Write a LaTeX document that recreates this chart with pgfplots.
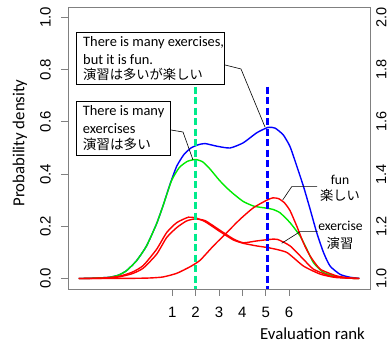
\documentclass[border=0pt]{standalone}
\usepackage{fontspec}
\setmainfont{Carlito}
\newfontfamily\cjk{Noto Sans CJK JP}
\newfontfamily\arialf{Liberation Sans}
\usepackage{pgfplots}
\pgfplotsset{compat=1.18}
\definecolor{dgreen}{RGB}{0,235,140}
\definecolor{boxgray}{RGB}{128,128,128}
\definecolor{rblue}{RGB}{0,0,255}
\definecolor{rgreen}{RGB}{0,235,0}
\definecolor{rred}{RGB}{255,0,0}
\begin{document}
\begin{tikzpicture}
\useasboundingbox (0pt,0pt) rectangle (392pt,347pt);
\begin{axis}[
 at={(68pt,58pt)}, anchor=south west,
 width=302pt, height=282pt, scale only axis,
 xmin=-3.46, xmax=9.46, ymin=-0.04, ymax=1.04,
 axis line style={boxgray, line width=0.8pt},
 xtick={1,2,3,4,5,6}, ytick={0,0.2,0.4,0.6,0.8,1.0},
 xtick pos=lower, ytick pos=left,
 tick align=outside, major tick length=7pt,
 tick style={boxgray, line width=0.8pt},
 /pgf/number format/assume math mode=true,
 tick label style={font=\arialf\fontsize{15}{15}\selectfont, text=black, inner sep=1pt},
 xticklabel shift=10pt,
 yticklabel shift=9pt,
 yticklabel style={rotate=90, anchor=south, /pgf/number format/fixed, /pgf/number format/fixed zerofill, /pgf/number format/precision=1},
 clip=false,
]
% blue
\addplot[rblue, line width=1.4pt, smooth, tension=0.35] coordinates {
(-3,0) (-2.5,0.001) (-2,0.003) (-1.67,0.005) (-1.3,0.013) (-0.96,0.03) (-0.53,0.068) (-0.1,0.125) (0.33,0.21) (0.61,0.28) (0.9,0.36) (1.19,0.43) (1.5,0.475) (1.8,0.5) (2.1,0.512) (2.4,0.517) (2.9,0.507) (3.47,0.50) (4.04,0.52) (4.61,0.558) (5.1,0.579) (5.4,0.576) (5.75,0.55) (6.04,0.505) (6.33,0.43) (6.61,0.354) (6.9,0.265) (7.18,0.176) (7.47,0.1) (7.75,0.048) (8.18,0.016) (8.6,0.005) (9,0.001)};
% green
\addplot[rgreen, line width=1.4pt, smooth, tension=0.35] coordinates {
(-3,0) (-2.5,0.001) (-2,0.003) (-1.67,0.005) (-1.3,0.013) (-0.96,0.03) (-0.53,0.068) (-0.1,0.125) (0.33,0.21) (0.61,0.28) (0.97,0.375) (1.3,0.425) (1.65,0.449) (2.0,0.456) (2.3,0.447) (2.61,0.42) (3.0,0.378) (3.3,0.35) (3.61,0.325) (4.04,0.295) (4.5,0.277) (5.0,0.27) (5.3,0.265) (5.61,0.252) (6.04,0.214) (6.47,0.163) (6.76,0.112) (7.04,0.061) (7.47,0.023) (8.04,0.008) (8.5,0.002) (9,0)};
% red A (fun)
\addplot[rred, line width=1.4pt, smooth, tension=0.35] coordinates {
(-3,0) (-1,0.0005) (0,0.002) (0.6,0.006) (1.19,0.02) (1.76,0.045) (2.19,0.07) (2.76,0.125) (3.33,0.176) (3.9,0.227) (4.47,0.271) (5.04,0.3) (5.3,0.309) (5.55,0.306) (5.8,0.29) (6.04,0.26) (6.33,0.2) (6.61,0.137) (6.9,0.086) (7.33,0.036) (8.04,0.01) (8.6,0.002) (9,0)};
% red C
\addplot[rred, line width=1.4pt, smooth, tension=0.35] coordinates {
(-3,0) (-2,0.002) (-1.3,0.008) (-0.7,0.025) (-0.24,0.05) (0.33,0.112) (0.76,0.176) (1.19,0.214) (1.69,0.235) (2.0,0.232) (2.4,0.218) (3.04,0.18) (3.61,0.148) (4.04,0.135) (4.61,0.125) (5.18,0.117) (5.9,0.1) (6.61,0.048) (7.33,0.017) (8,0.004) (9,0)};
% red B (exercise)
\addplot[rred, line width=1.4pt, smooth, tension=0.35] coordinates {
(-3,0) (-2,0.001) (-1.3,0.006) (-0.7,0.019) (-0.24,0.04) (0.33,0.093) (0.76,0.157) (1.19,0.195) (1.6,0.22) (1.95,0.228) (2.4,0.222) (3.04,0.185) (3.61,0.152) (4.04,0.137) (4.61,0.144) (5.18,0.15) (5.5,0.15) (6.04,0.125) (6.61,0.074) (7.04,0.036) (7.75,0.01) (8.5,0.002) (9,0)};
% dashed verticals
\addplot[dgreen, line width=2.4pt, dash pattern=on 7pt off 3.5pt] coordinates {(2.0,0.735) (2.0,-0.04)};
\addplot[rblue, line width=2.4pt, dash pattern=on 7pt off 3.5pt] coordinates {(5.08,0.735) (5.08,-0.04)};
\end{axis}
\begin{axis}[
 at={(68pt,58pt)}, anchor=south west,
 width=302pt, height=282pt, scale only axis,
 xmin=-3.46, xmax=9.46, ymin=0.96, ymax=2.04,
 hide x axis, axis y line*=right, axis line style={draw=none},
 ytick={1.0,1.2,1.4,1.6,1.8,2.0},
 major tick length=0pt, tick style={draw=none},
 yticklabel shift=5pt,
 /pgf/number format/assume math mode=true,
 yticklabel style={font=\arialf\fontsize{14.5}{14.5}\selectfont, inner sep=1pt, rotate=90, anchor=north, /pgf/number format/fixed, /pgf/number format/fixed zerofill, /pgf/number format/precision=1},
]
\addplot[draw=none] coordinates {(0,1) (1,2)};
\end{axis}
% axis labels
\node[rotate=90, font=\fontsize{16.8}{16.8}\selectfont] at (20pt,204pt) {Probability density};
\node[font=\fontsize{16.8}{16.8}\selectfont] at (312.5pt,13pt) {Evaluation rank};
% annotation box 1
\draw[black, line width=0.7pt] (76pt,315pt) rectangle (224pt,263pt);
\node[anchor=west, inner sep=0pt, font=\fontsize{14.4}{14.4}\selectfont] at (83pt,304pt) {There is many exercises,};
\node[anchor=west, inner sep=0pt, font=\fontsize{14.4}{14.4}\selectfont] at (83pt,287.5pt) {but it is fun.};
\node[anchor=west, inner sep=0pt, font=\cjk\fontsize{13.3}{13.3}\selectfont] at (83pt,272.5pt) {演習は多いが楽しい};
\draw[black, line width=0.6pt] (225pt,282pt) -- (241pt,278pt) -- (265pt,220pt);
% annotation box 2
\draw[black, line width=0.7pt] (76pt,246pt) rectangle (170pt,192pt);
\node[anchor=west, inner sep=0pt, font=\fontsize{14.4}{14.4}\selectfont] at (82.7pt,235.3pt) {There is many};
\node[anchor=west, inner sep=0pt, font=\fontsize{14.4}{14.4}\selectfont] at (82.7pt,218.7pt) {exercises};
\node[anchor=west, inner sep=0pt, font=\cjk\fontsize{13.6}{13.6}\selectfont] at (82.7pt,203pt) {演習は多い};
\draw[black, line width=0.6pt] (171pt,217pt) -- (183pt,215pt) -- (193pt,187pt);
% fun
\node[font=\fontsize{13.6}{13.6}\selectfont] at (340pt,167pt) {fun};
\node[font=\cjk\fontsize{13.3}{13.3}\selectfont] at (340pt,152pt) {楽しい};
\draw[black, line width=0.6pt] (317pt,160.3pt) -- (291.7pt,160.3pt) -- (282.7pt,147pt);
% exercise
\node[font=\fontsize{13.6}{13.6}\selectfont] at (340.5pt,121pt) {exercise};
\node[font=\cjk\fontsize{13.3}{13.3}\selectfont] at (340pt,104pt) {演習};
\draw[black, line width=0.6pt] (317.7pt,115.3pt) -- (300pt,115.3pt) -- (281.7pt,103.7pt);
\end{tikzpicture}
\end{document}
